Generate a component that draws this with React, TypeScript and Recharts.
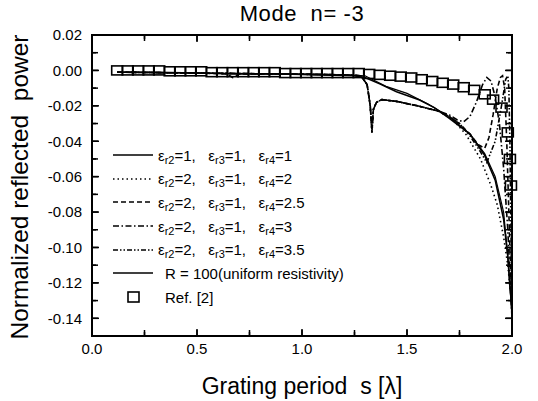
import React from "react";
import { ComposedChart, Line, Scatter, XAxis, YAxis } from "recharts";

const FONT = "'Liberation Sans', Arial, Helvetica, sans-serif";

// ---------- data ----------
const xTicks = [0, 0.25, 0.5, 0.75, 1, 1.25, 1.5, 1.75, 2];
const xMajor = [0, 0.5, 1, 1.5, 2];
const yTicks = [0.02, 0.01, 0, -0.01, -0.02, -0.03, -0.04, -0.05, -0.06, -0.07, -0.08, -0.09, -0.1, -0.11, -0.12, -0.13, -0.14, -0.15];
const yMajor = [0.02, 0, -0.02, -0.04, -0.06, -0.08, -0.1, -0.12, -0.14];

// εr2=1, εr3=1, εr4=1 (solid)
const s1X = [0.12, 0.3, 0.5, 0.7, 0.9, 1.1, 1.25, 1.3, 1.37, 1.45, 1.56, 1.63, 1.7, 1.8, 1.87, 1.92, 1.96, 1.98, 1.99, 2.0];
const s1Y = [-0.001, -0.001, -0.0015, -0.002, -0.002, -0.0025, -0.003, -0.004, -0.0076, -0.012, -0.0167, -0.021, -0.027, -0.036, -0.048, -0.062, -0.084, -0.105, -0.122, -0.135];

// εr2=2, εr3=1, εr4=2 (dotted)
const s2X = [0.12, 0.5, 0.9, 1.2, 1.28, 1.31, 1.325, 1.333, 1.34, 1.355, 1.38, 1.45, 1.55, 1.65, 1.72, 1.78, 1.85, 1.9, 1.93, 1.96, 1.98, 1.99, 2.0];
const s2Y = [-0.001, -0.0015, -0.002, -0.0025, -0.003, -0.008, -0.02, -0.036, -0.022, -0.018, -0.0165, -0.0175, -0.02, -0.023, -0.028, -0.036, -0.05, -0.065, -0.076, -0.094, -0.11, -0.122, -0.132];

// εr2=2, εr3=1, εr4=2.5 (dashed)
const s3X = [0.12, 0.5, 0.64, 0.67, 0.7, 1.0, 1.2, 1.28, 1.31, 1.325, 1.333, 1.34, 1.355, 1.38, 1.45, 1.55, 1.65, 1.7, 1.75, 1.8, 1.84, 1.87, 1.89, 1.91, 1.93, 1.945, 1.955, 1.965, 1.975, 1.985, 1.995, 2.0];
const s3Y = [-0.001, -0.0015, -0.002, -0.004, -0.002, -0.002, -0.0025, -0.003, -0.008, -0.02, -0.034, -0.022, -0.018, -0.0165, -0.0175, -0.02, -0.023, -0.026, -0.03, -0.036, -0.042, -0.044, -0.038, -0.025, -0.01, -0.004, -0.003, -0.01, -0.04, -0.08, -0.12, -0.14];

// εr2=2, εr3=1, εr4=3 (dash-dot)
const s4X = [0.12, 0.5, 0.9, 1.2, 1.28, 1.31, 1.325, 1.333, 1.34, 1.355, 1.38, 1.45, 1.55, 1.65, 1.7, 1.74, 1.77, 1.8, 1.83, 1.86, 1.88, 1.9, 1.92, 1.94, 1.96, 1.98, 2.0];
const s4Y = [-0.001, -0.0015, -0.002, -0.0025, -0.003, -0.008, -0.02, -0.035, -0.022, -0.018, -0.0165, -0.0175, -0.02, -0.023, -0.025, -0.028, -0.029, -0.026, -0.018, -0.008, -0.004, -0.006, -0.015, -0.03, -0.055, -0.09, -0.14];

// εr2=2, εr3=1, εr4=3.5 (dash-dot-dot)
const s5X = [0.12, 0.5, 0.9, 1.2, 1.28, 1.31, 1.325, 1.333, 1.34, 1.355, 1.38, 1.45, 1.55, 1.65, 1.7, 1.75, 1.8, 1.85, 1.88, 1.92, 1.95, 1.97, 1.98, 1.985, 1.99, 1.995, 2.0];
const s5Y = [-0.001, -0.0015, -0.002, -0.0025, -0.003, -0.008, -0.02, -0.033, -0.022, -0.018, -0.0165, -0.0175, -0.02, -0.023, -0.026, -0.03, -0.037, -0.046, -0.052, -0.04, -0.02, -0.005, -0.003, -0.01, -0.04, -0.09, -0.14];

// R = 100 (uniform resistivity) (solid)
const s6X = [0.12, 0.5, 0.9, 1.2, 1.3, 1.4, 1.5, 1.6, 1.7, 1.8, 1.87, 1.92, 1.96, 1.98, 1.995, 2.0];
const s6Y = [-0.001, -0.0015, -0.002, -0.0025, -0.003, -0.009, -0.013, -0.019, -0.026, -0.036, -0.047, -0.06, -0.08, -0.105, -0.13, -0.14];

// Ref. [2] (open squares)
const refX = [0.12, 0.17, 0.22, 0.27, 0.32, 0.37, 0.42, 0.47, 0.52, 0.57, 0.62, 0.67, 0.72, 0.77, 0.82, 0.87, 0.92, 0.97, 1.02, 1.07, 1.12, 1.17, 1.22, 1.27, 1.32, 1.37, 1.42, 1.47, 1.52, 1.57, 1.62, 1.67, 1.72, 1.77, 1.82, 1.87, 1.91, 1.95, 1.98, 1.99, 1.995];
const refY = [0, 0, 0, 0, 0, -0.0005, -0.0005, -0.0005, -0.0005, -0.001, -0.001, -0.001, -0.001, -0.001, -0.001, -0.001, -0.0015, -0.0015, -0.0015, -0.0015, -0.0015, -0.0015, -0.0015, -0.0015, -0.002, -0.0025, -0.003, -0.0035, -0.004, -0.005, -0.006, -0.007, -0.008, -0.0095, -0.011, -0.0135, -0.0165, -0.021, -0.035, -0.05, -0.065];

const legendLabels = [
  ["1", "1", "1"],
  ["2", "1", "2"],
  ["2", "1", "2.5"],
  ["2", "1", "3"],
  ["2", "1", "3.5"],
];

const zip = (xs: number[], ys: number[]) => xs.map((x, i) => ({ x, y: ys[i] }));

const series = [
  { name: "s1", data: zip(s1X, s1Y), dash: undefined as string | undefined, w: 1.6 },
  { name: "s2", data: zip(s2X, s2Y), dash: "1.5 3", w: 1.6 },
  { name: "s3", data: zip(s3X, s3Y), dash: "5 3", w: 1.6 },
  { name: "s4", data: zip(s4X, s4Y), dash: "6 2.5 1.5 2.5", w: 1.6 },
  { name: "s5", data: zip(s5X, s5Y), dash: "5 2 1.5 2 1.5 2", w: 1.6 },
  { name: "s6", data: zip(s6X, s6Y), dash: undefined as string | undefined, w: 1.2 },
];
const refData = zip(refX, refY);

// ---------- layout (chart box) ----------
const W = 538;
const H = 401;
const M = { top: 34, right: 25, bottom: 35, left: 0 };
const X_AXIS_H = 30;
const Y_AXIS_W = 92;
const PL = M.left + Y_AXIS_W; // plot left
const PR = W - M.right - 1; // plot right (right axis width 1)
const PT = M.top + 1; // plot top (top axis height 1)
const PB = H - M.bottom - X_AXIS_H; // plot bottom
const X_DOMAIN = [0, 2];
const Y_DOMAIN = [-0.15, 0.02];
const sx = (v: number) => PL + ((v - X_DOMAIN[0]) / (X_DOMAIN[1] - X_DOMAIN[0])) * (PR - PL);
const sy = (v: number) => PT + ((Y_DOMAIN[1] - v) / (Y_DOMAIN[1] - Y_DOMAIN[0])) * (PB - PT);

// ---------- formatters ----------
const near = (a: number, list: number[]) => list.some((v) => Math.abs(v - a) < 1e-9);
const fmtX = (v: number) => (near(v, xMajor) ? v.toFixed(1) : "");
const fmtY = (v: number) => (near(v, yMajor) ? (Math.abs(v) < 1e-9 ? "0.00" : v.toFixed(2)) : "");
const blank = () => "";

const tickStyle = { fill: "#000", fontSize: 15, fontFamily: FONT };
const tickLineStyle = { stroke: "#000", strokeWidth: 1.5 };

const SquareShape = (p: any) => (
  <rect x={p.cx - 5.5} y={p.cy - 4.5} width={11} height={9} fill="none" stroke="#000" strokeWidth={1.6} />
);

// frame + inward ticks on all four sides
const Frame = () => (
  <svg width={W} height={H} style={{ position: "absolute", left: 0, top: 0, pointerEvents: "none" }}>
    <rect x={PL} y={PT} width={PR - PL} height={PB - PT} fill="none" stroke="#000" strokeWidth={2} />
    {xTicks.map((v) => {
      const len = near(v, xMajor) ? 7 : 4;
      const x = sx(v);
      return (
        <g key={"x" + v}>
          <line x1={x} x2={x} y1={PB} y2={PB - len} stroke="#000" strokeWidth={1.5} />
          <line x1={x} x2={x} y1={PT} y2={PT + len} stroke="#000" strokeWidth={1.5} />
        </g>
      );
    })}
    {yTicks.map((v) => {
      const len = near(v, yMajor) ? 7 : 4;
      const y = sy(v);
      return (
        <g key={"y" + v}>
          <line x1={PL} x2={PL + len} y1={y} y2={y} stroke="#000" strokeWidth={1.5} />
          <line x1={PR} x2={PR - len} y1={y} y2={y} stroke="#000" strokeWidth={1.5} />
        </g>
      );
    })}
  </svg>
);

// ---------- legend ----------
const Eps = ({ sub, val }: { sub: string; val: string }) => (
  <span>
    ε<sub style={{ fontSize: 11, verticalAlign: "-3px", lineHeight: 0 }}>r{sub}</sub>={val}
  </span>
);

const LegendRow = ({ top, dash, children, w }: any) => (
  <div style={{ position: "absolute", left: 112, top: top - 9, height: 18, display: "flex", alignItems: "center", whiteSpace: "pre" }}>
    <svg width={42} height={18} style={{ display: "block" }}>
      <line x1={1} x2={41} y1={9} y2={9} stroke="#000" strokeWidth={w} strokeDasharray={dash} />
    </svg>
    {children}
  </div>
);

export default function App() {
  const rowY = [155, 178.7, 202.3, 226, 249.7, 273.3, 297];
  return (
    <div style={{ position: "absolute", left: 0, top: 0, width: W, height: H, fontFamily: FONT, color: "#000" }}>
      <ComposedChart width={W} height={H} margin={M}>
        <XAxis
          xAxisId="b"
          type="number"
          dataKey="x"
          domain={X_DOMAIN}
          ticks={xTicks}
          interval={0}
          height={X_AXIS_H}
          stroke="#000"
          tickSize={-6}
          tickMargin={13}
          tickLine={tickLineStyle}
          tick={tickStyle}
          tickFormatter={fmtX}
        />
        <XAxis
          xAxisId="t"
          orientation="top"
          type="number"
          dataKey="x"
          domain={X_DOMAIN}
          ticks={xTicks}
          interval={0}
          height={1}
          stroke="#000"
          tickSize={-6}
          tickMargin={2}
          tickLine={tickLineStyle}
          tick={tickStyle}
          tickFormatter={blank}
        />
        <YAxis
          yAxisId="l"
          type="number"
          domain={Y_DOMAIN}
          ticks={yTicks}
          interval={0}
          width={Y_AXIS_W}
          stroke="#000"
          tickSize={-6}
          tickMargin={16}
          tickLine={tickLineStyle}
          tick={tickStyle}
          tickFormatter={fmtY}
        />
        <YAxis
          yAxisId="r"
          orientation="right"
          type="number"
          domain={Y_DOMAIN}
          ticks={yTicks}
          interval={0}
          width={1}
          stroke="#000"
          tickSize={-6}
          tickMargin={2}
          tickLine={tickLineStyle}
          tick={tickStyle}
          tickFormatter={blank}
        />
        {series.map((s) => (
          <Line
            key={s.name}
            xAxisId="b"
            yAxisId="l"
            data={s.data}
            dataKey="y"
            type="linear"
            stroke="#000"
            strokeWidth={s.w}
            strokeDasharray={s.dash}
            dot={false}
            activeDot={false}
            isAnimationActive={false}
          />
        ))}
        <Line xAxisId="t" yAxisId="r" data={refData} dataKey="y" stroke="none" dot={false} activeDot={false} isAnimationActive={false} />
        <Scatter xAxisId="b" yAxisId="l" data={refData} dataKey="y" shape={<SquareShape />} isAnimationActive={false} />
      </ComposedChart>

      <Frame />

      {/* title */}
      <div style={{ position: "absolute", left: PL, width: PR - PL, top: 1, textAlign: "center", fontSize: 22, letterSpacing: 0.6, whiteSpace: "pre", lineHeight: "26px" }}>
        {"Mode  n= -3"}
      </div>
      {/* x label */}
      <div style={{ position: "absolute", left: PL, width: PR - PL, top: 372, textAlign: "center", fontSize: 23, whiteSpace: "pre", lineHeight: "28px" }}>
        {"Grating period  s [λ]"}
      </div>
      {/* y label */}
      <div
        style={{
          position: "absolute",
          left: 20 - 200,
          top: 187 - 14,
          width: 400,
          height: 28,
          lineHeight: "28px",
          textAlign: "center",
          fontSize: 24.5,
          whiteSpace: "pre",
          transform: "rotate(-90deg)",
          transformOrigin: "200px 14px",
        }}
      >
        {"Normalized reflected  power"}
      </div>

      {/* legend */}
      <div style={{ position: "absolute", left: 0, top: 0, fontSize: 15 }}>
        {legendLabels.map((l, i) => (
          <LegendRow key={i} top={rowY[i]} dash={series[i].dash} w={1.6}>
            <span style={{ marginLeft: 4 }}>
              <Eps sub="2" val={l[0]} />
              {",   "}
              <Eps sub="3" val={l[1]} />
              {",   "}
              <Eps sub="4" val={l[2]} />
            </span>
          </LegendRow>
        ))}
        <LegendRow top={rowY[5]} dash={undefined} w={1.6}>
          <span style={{ marginLeft: 11, fontSize: 15 }}>R = 100(uniform resistivity)</span>
        </LegendRow>
        <div style={{ position: "absolute", left: 112, top: rowY[6] - 9, height: 18, display: "flex", alignItems: "center", whiteSpace: "pre" }}>
          <svg width={42} height={18} style={{ display: "block" }}>
            <rect x={16} y={4} width={11} height={10} fill="none" stroke="#000" strokeWidth={1.6} />
          </svg>
          <span style={{ marginLeft: 11, fontSize: 15 }}>Ref. [2]</span>
        </div>
      </div>
    </div>
  );
}
